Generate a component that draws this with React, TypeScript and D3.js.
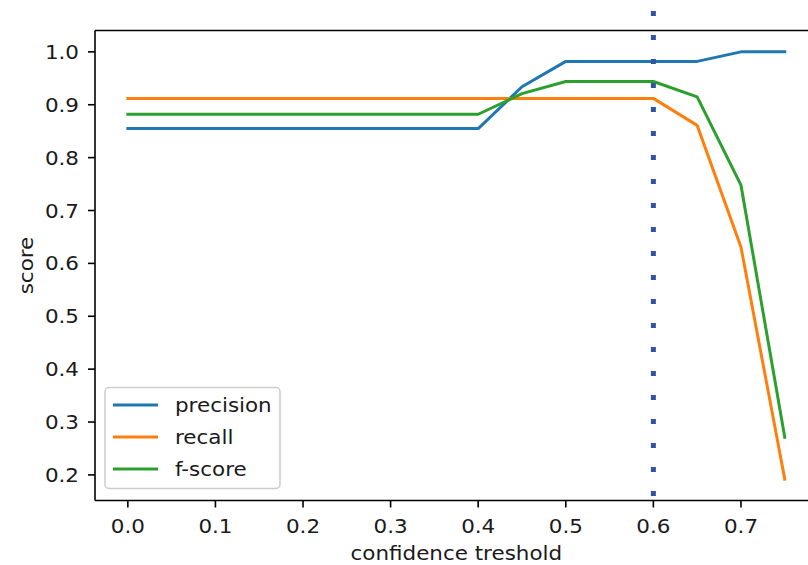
import React, { useEffect } from "react";
import * as d3 from "d3";

const thresholds = [0.0, 0.05, 0.1, 0.15, 0.2, 0.25, 0.3, 0.35, 0.4, 0.45, 0.5, 0.55, 0.6, 0.65, 0.7, 0.75];
const precision = [0.855, 0.855, 0.855, 0.855, 0.855, 0.855, 0.855, 0.855, 0.855, 0.934, 0.982, 0.982, 0.982, 0.982, 1.0, 1.0];
const recall = [0.912, 0.912, 0.912, 0.912, 0.912, 0.912, 0.912, 0.912, 0.912, 0.912, 0.912, 0.912, 0.912, 0.861, 0.631, 0.192];
const fscore = [0.882, 0.882, 0.882, 0.882, 0.882, 0.882, 0.882, 0.882, 0.882, 0.921, 0.944, 0.944, 0.944, 0.915, 0.748, 0.271];
const xTicks = [0.0, 0.1, 0.2, 0.3, 0.4, 0.5, 0.6, 0.7];
const yTicks = [0.2, 0.3, 0.4, 0.5, 0.6, 0.7, 0.8, 0.9, 1.0];
const chosenThreshold = 0.6;

const series = [
  { name: "precision", values: precision, color: "#1f77b4" },
  { name: "recall", values: recall, color: "#ff7f0e" },
  { name: "f-score", values: fscore, color: "#2ca02c" },
];

const W = 808;
const H = 565;
const left = 95;
const right = 817.6;
const top = 30.5;
const bottom = 500.5;
const font = "'DejaVu Sans', sans-serif";
const FS = 19.5;
const SX = 1.1;

function T({ x, y, anchor = "start", rotate = 0, children }: { x: number; y: number; anchor?: string; rotate?: number; children: React.ReactNode }) {
  return (
    <text
      transform={`translate(${x},${y}) rotate(${rotate}) scale(${SX},1)`}
      dy="0.36em"
      textAnchor={anchor}
      fontSize={FS}
      fill="#1a1a1a"
    >
      {children}
    </text>
  );
}

export default function App() {
  useEffect(() => {
    document.body.style.margin = "0";
  }, []);

  const x = d3.scaleLinear().domain([-0.0375, 0.7875]).range([left, right]);
  const y = d3.scaleLinear().domain([0.1516, 1.0404]).range([bottom, top]);

  const line = (vals: number[]) =>
    d3
      .line<number>()
      .x((_, i) => x(thresholds[i]))
      .y((v) => y(v))(vals) || "";

  const vx = x(chosenThreshold);

  return (
    <svg width={W} height={H} style={{ display: "block", background: "#fff" }} fontFamily={font}>
      <defs>
        <clipPath id="plotclip">
          <rect x={left} y={top} width={right - left} height={bottom - top} />
        </clipPath>
      </defs>
      <g clipPath="url(#plotclip)">
        {series.map((s) => (
          <path key={s.name} d={line(s.values)} fill="none" stroke={s.color} strokeWidth={3} strokeLinejoin="round" strokeLinecap="square" />
        ))}
      </g>
      <line x1={left} x2={left} y1={top} y2={bottom} stroke="#000" strokeWidth={1.6} />
      <line x1={left} x2={W} y1={top} y2={top} stroke="#000" strokeWidth={1.6} />
      <line x1={left} x2={W} y1={bottom} y2={bottom} stroke="#000" strokeWidth={1.6} />
      {xTicks.map((t) => (
        <g key={"x" + t}>
          <line x1={x(t)} x2={x(t)} y1={bottom} y2={bottom + 7} stroke="#000" strokeWidth={1.6} />
          <T x={x(t)} y={526} anchor="middle">{t.toFixed(1)}</T>
        </g>
      ))}
      {yTicks.map((t) => (
        <g key={"y" + t}>
          <line x1={left - 7} x2={left} y1={y(t)} y2={y(t)} stroke="#000" strokeWidth={1.6} />
          <T x={79} y={y(t)} anchor="end">{t.toFixed(1)}</T>
        </g>
      ))}
      <T x={(left + right) / 2} y={553} anchor="middle">confidence treshold</T>
      <T x={26} y={(top + bottom) / 2} anchor="middle" rotate={-90}>score</T>
      <line x1={vx} x2={vx} y1={11} y2={497} stroke="#2f55a2" strokeWidth={5} strokeDasharray="5 19" />
      <rect x={105} y={387.5} width={175} height={101} rx={4} fill="#fff" fillOpacity={0.8} stroke="#cccccc" strokeWidth={1.5} />
      {series.map((s, i) => (
        <g key={"l" + s.name}>
          <line x1={113} x2={158} y1={405 + i * 32} y2={405 + i * 32} stroke={s.color} strokeWidth={3} />
          <T x={175} y={405 + i * 32}>{s.name}</T>
        </g>
      ))}
    </svg>
  );
}
